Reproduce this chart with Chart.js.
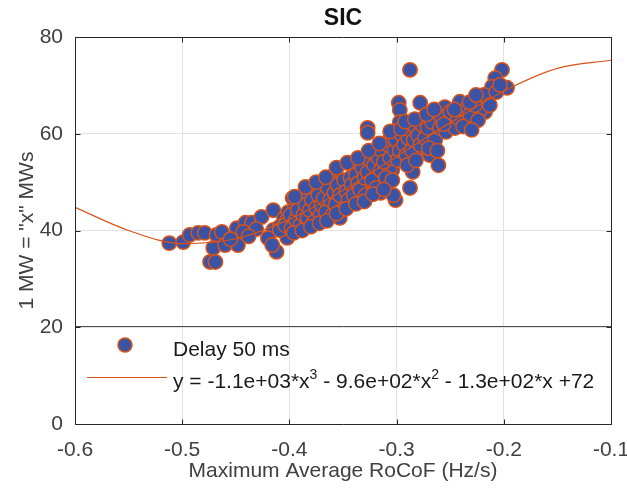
<!DOCTYPE html>
<html>
<head>
<meta charset="utf-8">
<title>SIC</title>
<script src="https://cdn.jsdelivr.net/npm/chart.js@4.4.0/dist/chart.umd.min.js"></script>
<style>
    html, body { margin: 0; padding: 0; background: #fff; }
    #wrap { width: 627px; height: 493px; }
</style>
</head>
<body>
<div id="wrap"><canvas id="sicChart" width="627" height="493"></canvas></div>
<script>
// Axis ticks
const xTicks = [-0.6, -0.5, -0.4, -0.3, -0.2, -0.1];
const xTickLabels = ['-0.6', '-0.5', '-0.4', '-0.3', '-0.2', '-0.1'];
const yTicks = [0, 20, 40, 60, 80];
const yTickLabels = ['0', '20', '40', '60', '80'];

// Delay 50 ms: [max average RoCoF (Hz/s), MW]
const delayPoints = [
    [-0.512, 37.4], [-0.499, 37.6], [-0.493, 39.1], [-0.485, 39.5], [-0.479, 39.5],
    [-0.468, 39.1], [-0.463, 39.7], [-0.471, 36.4], [-0.474, 33.5], [-0.469, 33.5],
    [-0.460, 37.0], [-0.448, 37.0], [-0.449, 40.5], [-0.441, 41.6], [-0.435, 41.6],
    [-0.443, 39.7], [-0.426, 42.8], [-0.415, 44.2], [-0.415, 40.1], [-0.420, 38.4],
    [-0.412, 35.6], [-0.416, 37.0], [-0.431, 40.3], [-0.438, 38.8], [-0.455, 38.2],
    [-0.405, 42.5], [-0.409, 40.8], [-0.402, 38.5],
    [-0.409, 40.1], [-0.401, 43.8], [-0.402, 42.2], [-0.395, 44.9], [-0.397, 46.7],
    [-0.387, 47.3], [-0.385, 41.8], [-0.374, 43.2], [-0.378, 45.7], [-0.369, 48.4],
    [-0.362, 44.7], [-0.364, 47.3], [-0.353, 42.6], [-0.351, 46.3], [-0.357, 51.9],
    [-0.346, 50.0], [-0.342, 48.4], [-0.329, 49.0], [-0.332, 51.9], [-0.327, 53.5],
    [-0.315, 47.8], [-0.318, 51.9], [-0.309, 56.0], [-0.304, 52.5], [-0.301, 46.3],
    [-0.303, 58.1],
    [-0.2875, 73.2], [-0.298, 66.4], [-0.297, 64.9], [-0.278, 66.4], [-0.297, 62.4],
    [-0.255, 65.5], [-0.241, 66.6], [-0.262, 63.9], [-0.250, 63.9], [-0.2455, 62.8],
    [-0.253, 61.4], [-0.285, 60.2], [-0.275, 60.4], [-0.266, 60.2], [-0.306, 59.1],
    [-0.297, 58.1], [-0.281, 57.7], [-0.269, 55.6], [-0.261, 53.5], [-0.306, 53.1],
    [-0.285, 52.1], [-0.313, 49.0], [-0.2875, 48.8], [-0.303, 47.3], [-0.315, 55.2],
    [-0.2017, 73.2], [-0.208, 71.5], [-0.211, 69.7], [-0.197, 69.5], [-0.215, 67.4],
    [-0.220, 65.9], [-0.224, 64.9], [-0.239, 64.5], [-0.234, 62.4], [-0.2175, 64.5],
    [-0.327, 61.2], [-0.327, 60.2], [-0.248, 63.5], [-0.222, 64.9], [-0.2175, 67.0],
    [-0.350, 45.9], [-0.359, 49.8], [-0.371, 44.9], [-0.385, 47.8], [-0.280, 57.1],
    [-0.337, 52.9], [-0.318, 56.6], [-0.304, 57.3],
    [-0.404, 41.1], [-0.399, 43.2], [-0.398, 40.5], [-0.394, 42.2], [-0.392, 44.2],
    [-0.390, 41.1], [-0.387, 43.2], [-0.385, 45.3], [-0.383, 42.6], [-0.381, 44.2],
    [-0.379, 46.3], [-0.377, 41.8], [-0.375, 44.7], [-0.373, 47.3], [-0.371, 43.2],
    [-0.370, 45.3], [-0.368, 46.7], [-0.366, 43.8], [-0.364, 48.8], [-0.362, 46.3],
    [-0.360, 43.2], [-0.358, 47.8], [-0.357, 45.3], [-0.355, 49.4], [-0.353, 47.3],
    [-0.351, 44.2], [-0.349, 50.4], [-0.347, 48.0], [-0.345, 46.3], [-0.343, 50.9],
    [-0.342, 49.4], [-0.340, 47.3], [-0.338, 51.5], [-0.336, 49.8], [-0.334, 48.4],
    [-0.332, 52.9], [-0.330, 50.9], [-0.329, 47.3], [-0.327, 52.1], [-0.325, 54.6],
    [-0.323, 50.4], [-0.321, 53.5], [-0.319, 48.8], [-0.317, 55.0], [-0.315, 52.5],
    [-0.314, 56.6], [-0.312, 54.2], [-0.310, 50.9], [-0.308, 57.7], [-0.306, 55.0],
    [-0.304, 50.4], [-0.302, 56.6], [-0.301, 58.7], [-0.299, 54.6], [-0.297, 56.6],
    [-0.295, 59.7], [-0.293, 57.7], [-0.291, 55.6], [-0.289, 59.1], [-0.2875, 60.8],
    [-0.286, 56.6], [-0.284, 58.7], [-0.282, 61.2], [-0.280, 59.7], [-0.278, 57.7],
    [-0.276, 61.8], [-0.2735, 59.1], [-0.271, 61.2], [-0.267, 62.4], [-0.264, 58.7],
    [-0.2595, 61.2], [-0.258, 63.3], [-0.254, 60.4], [-0.250, 64.5], [-0.2455, 61.2],
    [-0.243, 63.3], [-0.236, 64.9], [-0.2315, 63.9], [-0.227, 65.9], [-0.224, 62.8],
    [-0.2185, 68.0], [-0.213, 65.9], [-0.207, 68.6], [-0.2035, 70.1],
    [-0.396, 39.5], [-0.388, 40.0], [-0.380, 40.8], [-0.372, 41.5], [-0.365, 42.0],
    [-0.356, 43.5], [-0.347, 44.5], [-0.338, 45.5], [-0.330, 46.0], [-0.322, 47.5],
    [-0.312, 48.5], [-0.395, 47.0], [-0.385, 49.0], [-0.375, 50.0], [-0.366, 51.0],
    [-0.356, 53.0], [-0.346, 54.0], [-0.336, 55.0], [-0.326, 56.5], [-0.316, 58.0],
    [-0.306, 60.5], [-0.296, 61.0], [-0.292, 62.5], [-0.283, 63.0], [-0.272, 64.0],
    [-0.265, 65.0], [-0.256, 62.0], [-0.246, 65.0], [-0.238, 61.5], [-0.232, 66.5],
    [-0.226, 68.0], [-0.230, 60.8], [-0.270, 57.0], [-0.262, 56.5], [-0.290, 53.5],
    [-0.282, 54.5]
];

// Cubic fit
const fitRocof = [-0.6, -0.55, -0.5, -0.45, -0.4, -0.35, -0.3, -0.25, -0.2, -0.15, -0.1];
const fitMw = [44.8, 40.0, 37.3, 38.3, 42.3, 48.3, 55.3, 62.3, 68.8, 73.5, 75.2];

const FONT = "'Liberation Sans', Arial, Helvetica, sans-serif";
const AXIS_COLOR = '#262626';
const TEXT_COLOR = '#404040';
const MARKER_FILL = '#3A53A4';
const MARKER_EDGE = '#D95319';

// Box, inward ticks, title and legend drawn MATLAB-style
const matlabAxes = {
    id: 'matlabAxes',
    afterDraw(chart) {
        const ctx = chart.ctx;
        const xs = chart.scales.x;
        const ys = chart.scales.y;
        const { left, right, top, bottom } = chart.chartArea;
        const px = v => Math.round(v) + 0.5;
        const L = px(left), R = px(right), T = px(top), B = px(bottom);

        ctx.save();
        ctx.strokeStyle = AXIS_COLOR;
        ctx.lineWidth = 1;
        ctx.beginPath();
        ctx.rect(L, T, R - L, B - T);
        xTicks.forEach(v => {
            const x = px(xs.getPixelForValue(v));
            ctx.moveTo(x, B); ctx.lineTo(x, B - 5);
            ctx.moveTo(x, T); ctx.lineTo(x, T + 5);
        });
        yTicks.forEach(v => {
            const y = px(ys.getPixelForValue(v));
            ctx.moveTo(L, y); ctx.lineTo(L + 5, y);
            ctx.moveTo(R, y); ctx.lineTo(R - 5, y);
        });
        ctx.stroke();

        // legend box top edge
        const legTop = Math.round(ys.getPixelForValue(20)) - 0.5;
        ctx.beginPath();
        ctx.strokeStyle = '#4d4d4d';
        ctx.moveTo(L, legTop); ctx.lineTo(R, legTop);
        ctx.stroke();

        // title
        ctx.fillStyle = '#111';
        ctx.font = 'bold 23px ' + FONT;
        ctx.textAlign = 'center';
        ctx.textBaseline = 'middle';
        ctx.fillText('SIC', (left + right) / 2, 19);

        // legend entries
        ctx.beginPath();
        ctx.arc(125, 345, 7, 0, Math.PI * 2);
        ctx.fillStyle = MARKER_FILL;
        ctx.fill();
        ctx.lineWidth = 1.5;
        ctx.strokeStyle = MARKER_EDGE;
        ctx.stroke();

        ctx.beginPath();
        ctx.lineWidth = 1.2;
        ctx.moveTo(87, 377.5); ctx.lineTo(167, 377.5);
        ctx.stroke();

        ctx.fillStyle = '#1a1a1a';
        ctx.textAlign = 'left';
        ctx.textBaseline = 'alphabetic';
        ctx.font = '21px ' + FONT;
        ctx.fillText('Delay 50 ms', 173, 356);

        const parts = [
            ['y = -1.1e+03*x', false], ['3', true],
            [' - 9.6e+02*x', false], ['2', true],
            [' - 1.3e+02*x +72', false]
        ];
        let cx = 173;
        parts.forEach(([txt, sup]) => {
            ctx.font = (sup ? '14px ' : '21px ') + FONT;
            ctx.fillText(txt, cx, sup ? 379 : 388);
            cx += ctx.measureText(txt).width;
        });
        ctx.restore();
    }
};

new Chart(document.getElementById('sicChart'), {
    type: 'scatter',
    data: {
        datasets: [
            {
                type: 'line',
                label: 'fit',
                data: fitRocof.map((x, i) => ({ x: x, y: fitMw[i] })),
                borderColor: MARKER_EDGE,
                borderWidth: 1.2,
                pointRadius: 0,
                fill: false,
                cubicInterpolationMode: 'monotone',
                order: 0
            },
            {
                label: 'Delay 50 ms',
                data: delayPoints.map(p => ({ x: p[0], y: p[1] })),
                backgroundColor: MARKER_FILL,
                borderColor: MARKER_EDGE,
                borderWidth: 1.5,
                pointRadius: 7.2,
                order: 1
            }
        ]
    },
    options: {
        responsive: false,
        animation: false,
        events: [],
        layout: { padding: { top: 37, right: 16, bottom: 0, left: 0 } },
        plugins: {
            legend: { display: false },
            tooltip: { enabled: false },
            title: { display: false }
        },
        scales: {
            x: {
                type: 'linear',
                min: -0.6,
                max: -0.1,
                afterBuildTicks: s => { s.ticks = xTicks.map(v => ({ value: v })); },
                afterFit: s => { s.height = 69; s.paddingLeft = 0; s.paddingRight = 0; },
                border: { display: false },
                grid: { color: '#e2e2e2', drawTicks: false },
                ticks: {
                    padding: 14,
                    color: TEXT_COLOR,
                    font: { family: FONT, size: 21 },
                    callback: (v, i) => xTickLabels[i]
                },
                title: {
                    display: true,
                    text: 'Maximum Average RoCoF (Hz/s)',
                    color: TEXT_COLOR,
                    font: { family: FONT, size: 21 },
                    padding: { top: 0, bottom: 9 }
                }
            },
            y: {
                type: 'linear',
                min: 0,
                max: 80,
                afterBuildTicks: s => { s.ticks = yTicks.map(v => ({ value: v })); },
                afterFit: s => { s.width = 75; s.paddingTop = 0; s.paddingBottom = 0; },
                border: { display: false },
                grid: { color: '#e2e2e2', drawTicks: false },
                ticks: {
                    padding: 12,
                    color: TEXT_COLOR,
                    font: { family: FONT, size: 21 },
                    callback: (v, i) => yTickLabels[i]
                },
                title: {
                    display: true,
                    text: '1 MW = "x" MWs',
                    color: TEXT_COLOR,
                    font: { family: FONT, size: 21 },
                    padding: { top: 15, bottom: 0 }
                }
            }
        }
    },
    plugins: [matlabAxes]
});
</script>
</body>
</html>
